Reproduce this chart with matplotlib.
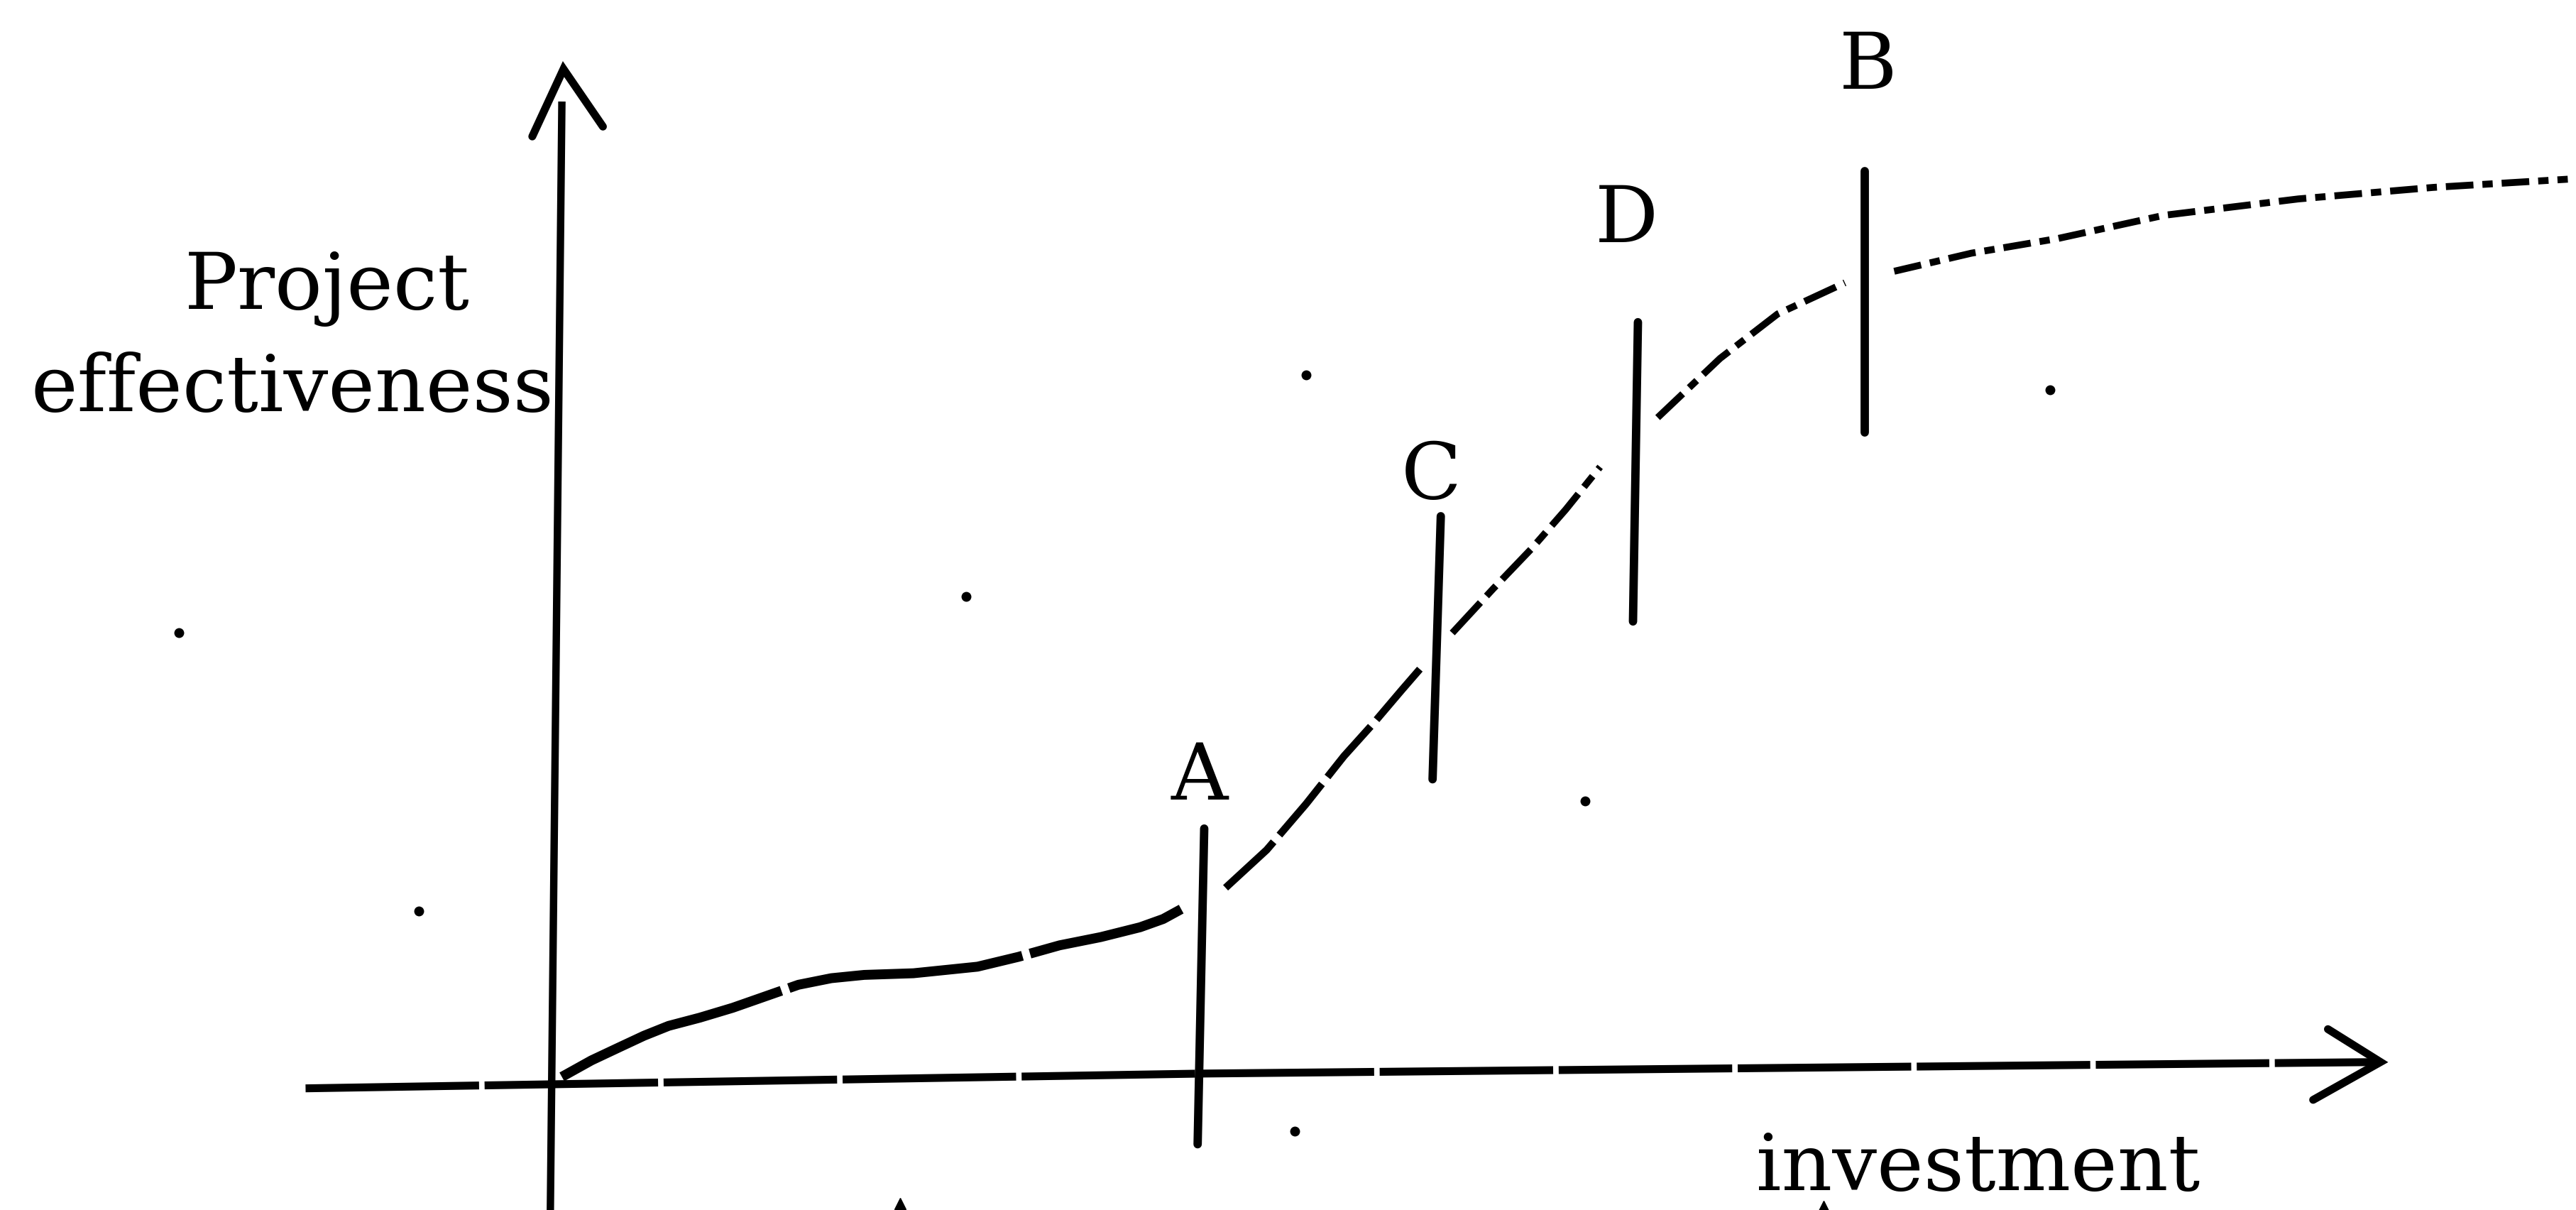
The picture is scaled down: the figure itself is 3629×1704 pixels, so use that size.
import matplotlib.pyplot as plt
import numpy as np

# curve pieces, broken at the marks A, C, D, B
seg1_x = [2, 20, 37, 52, 67, 86, 106, 126, 146, 166, 186, 216, 255, 280, 305, 330, 354, 368, 379]
seg1_y = [2, 12, 20, 27, 33, 38, 44, 51, 58, 62, 64, 65, 69, 75, 82, 87, 93, 98, 104]
seg2_x = [406, 431, 455, 478, 496, 513, 526]
seg2_y = [117, 140, 168, 197, 217, 237, 252]
seg3_x = [544, 569, 592, 613, 634]
seg3_y = [272, 299, 323, 347, 373]
seg4_x = [669, 707, 742, 783]
seg4_y = [403, 439, 466, 485]
seg5_x = [813, 860, 913, 977, 1059, 1141, 1223]
seg5_y = [492, 503, 512, 526, 536, 543, 548]

# vertical marks: label, x bottom, x top, y bottom, y top
mark_names = ['A', 'C', 'D', 'B']
mark_x0 = [389, 532, 654, 795]
mark_x1 = [393, 537, 657, 795]
mark_y0 = [-39, 183, 279, 394]
mark_y1 = [153, 343, 461, 553]
label_x = [390, 531, 650, 797]
label_y = [184, 367, 523, 616]

# axes as drawn
xaxis_x = [-154, 393, 1109]
xaxis_y = [-5, 4, 11]
xhead_x = [1077, 1109, 1068]
xhead_y = [31, 11, -12]
yaxis_x = [-5, 2]
yaxis_y = [-79, 593]
yhead_x = [-16, 3, 27]
yhead_y = [574, 615, 580]

# stray specks of the scan
speck_x = [-231, -85, 248, 455, 625, 448, 908]
speck_y = [272, 103, 294, 429, 170, -31, 420]
tick_x = [208, 770]
tick_y = [-75, -77]

fig = plt.figure(figsize=(36.29, 17.04), dpi=100)
ax = fig.add_axes([0, 0, 1, 1])
ax.set_xlim(-340, 1228)
ax.set_ylim(-79, 657)
ax.axis('off')

k = 'black'
ax.plot(xaxis_x, xaxis_y, color=k, lw=8, dashes=(22, 0.7))
ax.plot(xhead_x, xhead_y, color=k, lw=8, solid_capstyle='round', solid_joinstyle='miter')
ax.plot(yaxis_x, yaxis_y, color=k, lw=7.5)
ax.plot(yhead_x, yhead_y, color=k, lw=8, solid_capstyle='round', solid_joinstyle='miter')

ax.plot(seg1_x, seg1_y, color=k, lw=10, dashes=(24, 0.8))
ax.plot(seg2_x, seg2_y, color=k, lw=7.5, dashes=(9, 1.2))
ax.plot(seg3_x, seg3_y, color=k, lw=7, dashes=(6, 1.3, 2, 1.3))
ax.plot(seg4_x, seg4_y, color=k, lw=7, dashes=(5, 1.3, 1.5, 1.3))
ax.plot(seg5_x, seg5_y, color=k, lw=7, dashes=(4, 1.3, 1.5, 1.3))

for i in range(len(mark_names)):
    ax.plot([mark_x0[i], mark_x1[i]], [mark_y0[i], mark_y1[i]], color=k, lw=8.5,
            solid_capstyle='round')
    ax.text(label_x[i], label_y[i], mark_names[i], ha='center', va='center',
            fontsize=80, family='DejaVu Serif')

ax.plot(speck_x, speck_y, 'o', color=k, ms=9)
ax.plot(tick_x, tick_y, '^', color=k, ms=11)

ax.text(-141, 469, 'Project', ha='center', va='baseline', fontsize=80, family='DejaVu Serif')
ax.text(-162, 407, 'effectiveness', ha='center', va='baseline', fontsize=80, family='DejaVu Serif')
ax.text(864, -67, 'investment', ha='center', va='baseline', fontsize=80, family='DejaVu Serif')

fig.savefig('out.png', dpi=100)
